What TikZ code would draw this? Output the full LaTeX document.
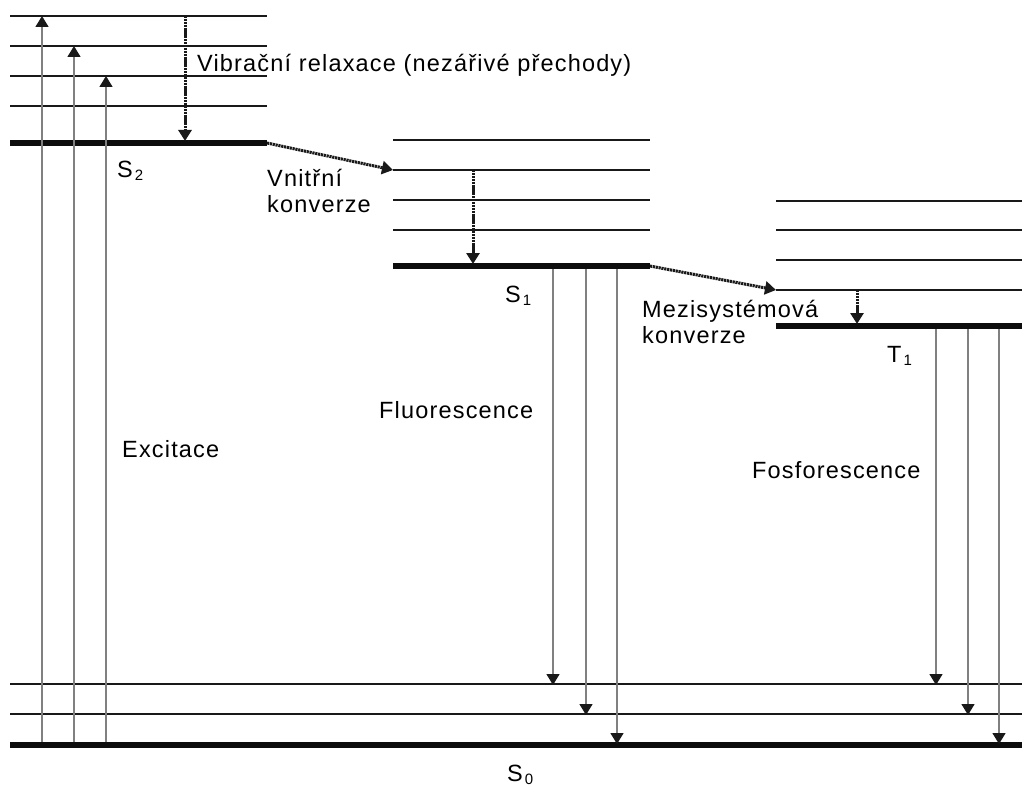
\documentclass[tikz,border=0pt]{standalone}
\usepackage{fontspec}
\setmainfont{Liberation Sans}[LetterSpace=5]
\usetikzlibrary{arrows.meta}
\newcommand\lev[2]{#1\hspace{2pt}\raisebox{-3pt}{\fontsize{15}{15}\selectfont#2}}

\begin{document}
\begin{tikzpicture}[
  x=1pt,y=-1pt,
  font=\fontsize{23.5}{26}\selectfont,
  level/.style={draw=black!90,line width=2.4pt},
  lowest/.style={draw=black!95,line width=6pt},
  photon/.style={draw=black!50,line width=1.4pt,
                 -{Triangle[width=13pt,length=11pt,color=black!90]}},
  nonrad/.style={draw=black!90,line width=3pt,dash pattern=on 2.2pt off 0.7pt,
                 -{Triangle[width=13pt,length=11pt,color=black!90]}},
  lbl/.style={anchor=base west,inner sep=0pt,align=left}
]
  \useasboundingbox (0,0) rectangle (1022,789);

  % vibrational levels
  \foreach \y in {16,46,76,106} \draw[level] (10,\y)--(267,\y);
  \foreach \y in {140,170,200,230} \draw[level] (393,\y)--(650,\y);
  \foreach \y in {201,230,260,290} \draw[level] (776,\y)--(1022,\y);
  \foreach \y in {684,714} \draw[level] (10,\y)--(1022,\y);
  \draw[lowest] (10,143)--(267,143);
  \draw[lowest] (393,266)--(650,266);
  \draw[lowest] (776,326)--(1022,326);
  \draw[lowest] (10,745)--(1022,745);

  % excitation
  \foreach \x/\y [count=\i] in {42/16,74/46,106/76} {
    \coordinate (exc\i) at (\x,742);
    \coordinate (exc\i top) at (\x,\y);
    \draw[photon] (exc\i)--(exc\i top);
  }

  % fluorescence and phosphorescence
  \foreach \x/\y [count=\i] in {553/685,586/715,617/744} {
    \coordinate (fl\i) at (\x,269);
    \coordinate (fl\i end) at (\x,\y);
    \draw[photon] (fl\i)--(fl\i end);
  }
  \foreach \x/\y [count=\i] in {936/685,968/715,999/744} {
    \coordinate (ph\i) at (\x,329);
    \coordinate (ph\i end) at (\x,\y);
    \draw[photon] (ph\i)--(ph\i end);
  }

  % radiationless steps
  \coordinate (vr2a) at (185,16);  \coordinate (vr2b) at (185,141);
  \coordinate (vr1a) at (473,170); \coordinate (vr1b) at (473,264);
  \coordinate (vrta) at (857,290); \coordinate (vrtb) at (857,324);
  \coordinate (ica) at (267,143);  \coordinate (icb) at (393,170);
  \coordinate (isca) at (650,266); \coordinate (iscb) at (776,290);
  \draw[nonrad] (vr2a)--(vr2b);
  \draw[nonrad] (vr1a)--(vr1b);
  \draw[nonrad] (vrta)--(vrtb);
  \draw[nonrad] (ica)--(icb);
  \draw[nonrad] (isca)--(iscb);

  \node[lbl] (vrlab) at (197,72) {Vibrační relaxace (nezářivé přechody)};
  \node[lbl] (s2lab) at (117,177) {\lev{S}{2}};
  \node[lbl] (iclab) at (267,212) {Vnitřní\\konverze};
  \node[lbl] (s1lab) at (505,302) {\lev{S}{1}};
  \node[lbl] (isclab) at (642,343) {Mezisystémová\\konverze};
  \node[lbl] (t1lab) at (887,362) {\lev{T}{1}};
  \node[lbl] (fllab) at (379,418) {Fluorescence};
  \node[lbl] (exlab) at (122,457) {Excitace};
  \node[lbl] (phlab) at (752,478) {Fosforescence};
  \node[lbl] (s0lab) at (507,781) {\lev{S}{0}};
\end{tikzpicture}
\end{document}
